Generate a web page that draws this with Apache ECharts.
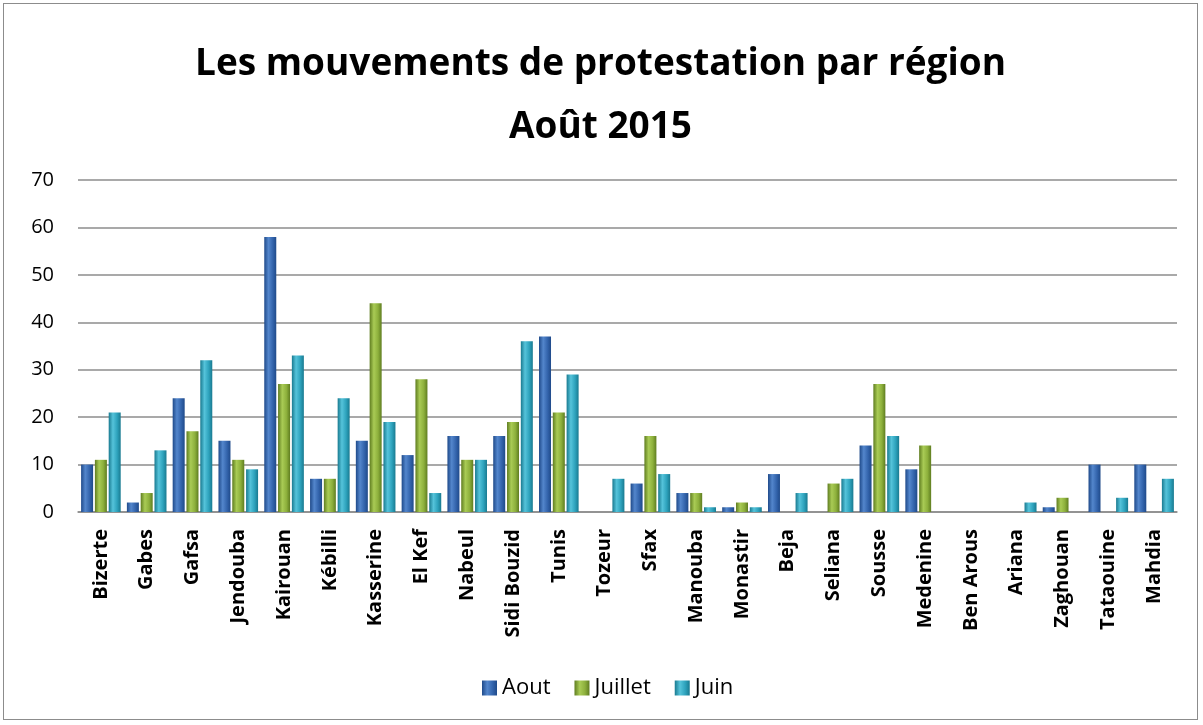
<!DOCTYPE html>
<html lang="fr">
<head>
<meta charset="UTF-8">
<title>Les mouvements de protestation par région</title>
<style>
  html, body { margin: 0; padding: 0; background: #fff; }
  #main { position: absolute; left: 3px; top: 3px; width: 1195px; height: 717px; border: 1px solid #8c8c8c; box-sizing: border-box; }
</style>
</head>
<body>
<div id="main"></div>
<script src="https://cdn.jsdelivr.net/npm/echarts@6/dist/echarts.min.js"></script>
<script>
  // données
  var regions = ['Bizerte', 'Gabes', 'Gafsa', 'Jendouba', 'Kairouan', 'Kébilli', 'Kasserine', 'El Kef',
    'Nabeul', 'Sidi Bouzid', 'Tunis', 'Tozeur', 'Sfax', 'Manouba', 'Monastir', 'Beja', 'Seliana',
    'Sousse', 'Medenine', 'Ben Arous', 'Ariana', 'Zaghouan', 'Tataouine', 'Mahdia'];
  var aout    = [10, 2, 24, 15, 58, 7, 15, 12, 16, 16, 37, 0, 6, 4, 1, 8, 0, 14, 9, 0, 0, 1, 10, 10];
  var juillet = [11, 4, 17, 11, 27, 7, 44, 28, 11, 19, 21, 0, 16, 4, 2, 0, 6, 27, 14, 0, 0, 3, 0, 0];
  var juin    = [21, 13, 32, 9, 33, 24, 19, 4, 11, 36, 29, 7, 8, 1, 1, 4, 7, 16, 0, 0, 2, 0, 3, 7];
  var yTicks = [0, 10, 20, 30, 40, 50, 60, 70];

  var chart = echarts.init(document.getElementById('main'));

  // dégradé horizontal pour imiter les cylindres d'Excel
  function shade(dark, mid, light) {
    return new echarts.graphic.LinearGradient(0, 0, 1, 0, [
      { offset: 0, color: dark },
      { offset: 0.35, color: light },
      { offset: 0.7, color: mid },
      { offset: 1, color: dark }
    ]);
  }

  function serie(name, data, colors) {
    return {
      name: name,
      type: 'bar',
      data: data,
      barWidth: 12,
      barGap: '15%',
      itemStyle: { color: shade(colors[0], colors[1], colors[2]) }
    };
  }

  chart.setOption({
    animation: false,
    color: ['#3465ad', '#8db03c', '#2ea3bd'],
    title: {
      text: 'Les mouvements de protestation par région\nAoût 2015',
      left: 'center',
      top: 24,
      textStyle: {
        fontFamily: 'Open Sans',
        fontWeight: 'bold',
        fontSize: 37,
        lineHeight: 63,
        color: '#000'
      }
    },
    legend: {
      top: 673,
      left: 478,
      padding: 0,
      itemWidth: 15,
      itemHeight: 15,
      itemGap: 24,
      icon: 'rect',
      textStyle: { fontFamily: 'Open Sans', fontSize: 22, color: '#000' },
      data: ['Aout', 'Juillet', 'Juin']
    },
    grid: { left: 74, right: 20, top: 176, bottom: 207, containLabel: false },
    xAxis: {
      type: 'category',
      data: regions,
      axisTick: { show: false },
      axisLine: { lineStyle: { color: '#8c8c8c', width: 1.5 } },
      axisLabel: {
        rotate: 90,
        interval: 0,
        margin: 17,
        fontFamily: 'Open Sans',
        fontWeight: 'bold',
        fontSize: 20,
        color: '#000'
      }
    },
    yAxis: {
      type: 'value',
      min: yTicks[0],
      max: yTicks[yTicks.length - 1],
      interval: 10,
      axisLine: { show: false },
      axisTick: { show: false },
      splitLine: { lineStyle: { color: '#8c8c8c', width: 1.5 } },
      axisLabel: { fontFamily: 'Open Sans', fontSize: 20, color: '#000', margin: 24 }
    },
    series: [
      serie('Aout', aout, ['#1f4a8a', '#3465ad', '#5386cc']),
      serie('Juillet', juillet, ['#5f7d20', '#8db03c', '#a9cb55']),
      serie('Juin', juin, ['#197a90', '#2ea3bd', '#55c3da'])
    ]
  });
</script>
</body>
</html>
